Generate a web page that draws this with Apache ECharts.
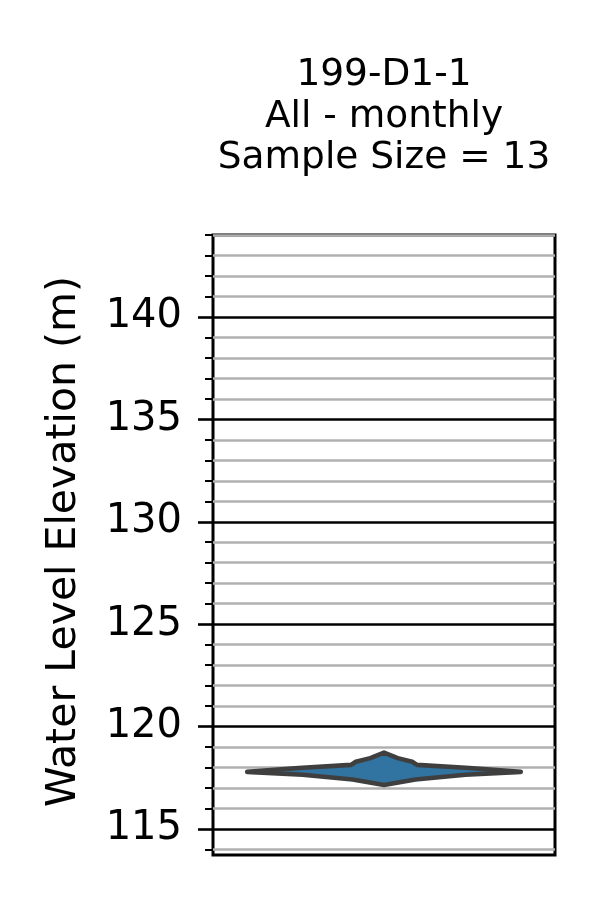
<!DOCTYPE html>
<html>
<head>
<meta charset="utf-8">
<script src="https://cdn.jsdelivr.net/npm/echarts@6/dist/echarts.min.js"></script>
<style>html,body{margin:0;padding:0;background:#fff}#c{width:600px;height:900px}</style>
</head>
<body>
<div id="c"></div>
<script>
const categories = ['199-D1-1'];
const titleLines = ['199-D1-1', 'All - monthly', 'Sample Size = 13'];
const yLabel = 'Water Level Elevation (m)';
const yMin = 113.73, yMax = 144;
const majorTicks = [115, 120, 125, 130, 135, 140];
const minorTicks = [114, 116, 117, 118, 119, 121, 122, 123, 124, 126, 127, 128, 129,
  131, 132, 133, 134, 136, 137, 138, 139, 141, 142, 143, 144];
// violin outline: elevation (m) and relative density (max = 1)
const violinElevation = [118.73, 118.46, 118.28, 118.13, 117.98, 117.79, 117.65, 117.42, 117.15];
const violinDensity   = [0,      0.10,   0.206,  0.241,  0.625,  1.0,    0.595,  0.229,  0];

const font = 'DejaVu Sans';
const chart = echarts.init(document.getElementById('c'), null, {renderer: 'canvas'});
chart.setOption({
  animation: false,
  backgroundColor: '#ffffff',
  title: {
    text: titleLines.join('\n'),
    left: 379, top: 50, textAlign: 'center',
    textStyle: {fontFamily: font, fontSize: 37.5, fontWeight: 'normal', color: '#000', lineHeight: 41.5}
  },
  grid: {left: 213, top: 235, width: 342, height: 620, show: true,
    borderColor: '#000', borderWidth: 3, backgroundColor: 'transparent'},
  xAxis: {type: 'category', data: categories, boundaryGap: true,
    axisLine: {show: false}, axisTick: {show: false}, axisLabel: {show: false}, splitLine: {show: false}},
  yAxis: [
    {type: 'value', min: yMin, max: yMax, position: 'left',
      name: yLabel, nameLocation: 'middle', nameGap: 128,
      nameTextStyle: {fontFamily: font, fontSize: 41, color: '#000', padding: [0, 0, 0, 7]},
      axisLine: {show: false},
      axisTick: {show: true, length: 15, customValues: majorTicks, lineStyle: {color: '#000', width: 2.6}},
      axisLabel: {show: true, customValues: majorTicks, margin: 31, fontFamily: font, fontSize: 40, color: '#000'},
      splitLine: {show: true, lineStyle: {color: '#000', width: 2.6}}
    },
    {type: 'value', min: yMin, max: yMax, position: 'left',
      axisLine: {show: false},
      axisTick: {show: true, length: 8, customValues: minorTicks, lineStyle: {color: '#000', width: 2}},
      axisLabel: {show: false},
      splitLine: {show: true, lineStyle: {color: '#b0b0b0', width: 2.6}}
    }
  ],
  series: [{
    type: 'custom',
    z: 5,
    data: [[0, violinElevation[5]]],
    renderItem: function (params, api) {
      const band = api.size([1, 0])[0];
      const right = [], left = [];
      for (let i = 0; i < violinElevation.length; i++) {
        const c = api.coord([0, violinElevation[i]]);
        const hw = violinDensity[i] * band * 0.4;
        right.push([c[0] + hw, c[1]]);
        left.push([c[0] - hw, c[1]]);
      }
      return {type: 'polygon', shape: {points: right.concat(left.reverse())},
        style: {fill: '#3274a1', stroke: '#3f3f3f', lineWidth: 4.6, lineJoin: 'round'}};
    }
  }]
});
</script>
</body>
</html>
